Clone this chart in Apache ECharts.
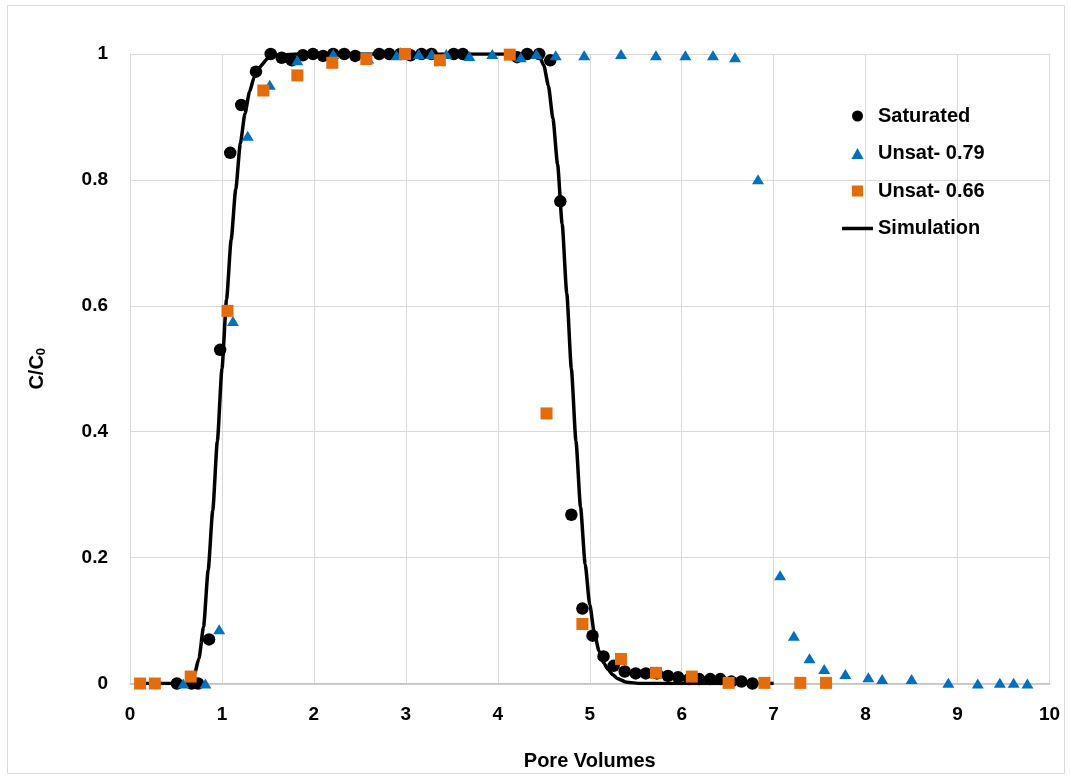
<!DOCTYPE html>
<html>
<head>
<meta charset="utf-8">
<script src="https://cdn.jsdelivr.net/npm/echarts@6/dist/echarts.min.js"></script>
<style>
html,body{margin:0;padding:0;background:#fff;}
#chart{width:1070px;height:780px;}
</style>
</head>
<body>
<div id="chart"></div>
<script>
// ---- data ----
const satX = [0.51,0.67,0.74,0.86,0.98,1.09,1.21,1.37,1.53,1.65,1.76,1.88,1.99,2.10,2.21,2.33,2.45,2.57,2.71,2.82,2.94,3.05,3.17,3.28,3.41,3.52,3.62,3.72,3.84,3.96,4.09,4.21,4.32,4.45,4.57,4.68,4.80,4.92,5.03,5.15,5.26,5.38,5.50,5.61,5.73,5.85,5.96,6.08,6.19,6.31,6.42,6.54,6.65,6.77];
const satY = [0,0,0,0.07,0.53,0.843,0.919,0.972,1.0,0.994,0.99,0.998,1.0,0.997,1.0,1.0,0.997,1.004,1.0,1.0,1.0,0.998,1.0,1.0,1.004,1.0,1.0,1.006,1.011,1.011,1.006,0.995,1.0,1.0,0.99,0.766,0.268,0.119,0.076,0.043,0.028,0.019,0.016,0.016,0.016,0.012,0.010,0.007,0.007,0.007,0.007,0.003,0.003,0.0];

const unsat79X = [0.58,0.82,0.97,1.12,1.28,1.52,1.82,2.21,2.59,2.90,3.14,3.28,3.44,3.69,3.94,4.25,4.42,4.63,4.94,5.34,5.72,6.04,6.34,6.58,6.83,7.07,7.22,7.39,7.55,7.78,8.03,8.18,8.50,8.90,9.22,9.46,9.61,9.76];
const unsat79Y = [0,0,0.086,0.576,0.870,0.951,0.990,1.0,0.993,0.998,1.0,1.0,1.0,0.997,1.0,0.995,1.0,0.998,0.998,1.0,0.998,0.998,0.998,0.995,0.801,0.172,0.076,0.040,0.023,0.015,0.010,0.007,0.007,0.001,0,0.001,0.001,0];

const unsat66X = [0.11,0.27,0.66,1.06,1.45,1.82,2.20,2.57,2.99,3.37,3.73,4.13,4.53,4.92,5.34,5.72,6.11,6.51,6.90,7.29,7.57];
const unsat66Y = [0,0,0.011,0.592,0.942,0.966,0.986,0.992,1.0,0.990,1.002,0.999,0.429,0.0945,0.039,0.017,0.011,0.001,0.001,0.001,0.001];

const simX = [0.1,0.3,0.5,0.60,0.65,0.70,0.75,0.80,0.85,0.90,0.95,1.00,1.05,1.10,1.15,1.20,1.25,1.30,1.35,1.40,1.50,1.60,1.80,2.5,3.5,4.40,4.45,4.50,4.55,4.60,4.65,4.70,4.75,4.80,4.85,4.90,4.95,5.00,5.05,5.10,5.15,5.20,5.25,5.30,5.40,5.55,6.0,6.5,7.0];
const simY = [0,0,0,0.000,0.004,0.014,0.040,0.090,0.180,0.275,0.385,0.500,0.610,0.705,0.785,0.858,0.905,0.940,0.963,0.978,0.993,0.998,1.000,1.0,1.0,1.000,0.997,0.982,0.950,0.897,0.825,0.730,0.620,0.500,0.385,0.280,0.190,0.125,0.080,0.052,0.033,0.022,0.014,0.008,0.002,0,0,0,0];

const xTicks = [0,1,2,3,4,5,6,7,8,9,10];
const yTicks = [0,0.2,0.4,0.6,0.8,1];

const zip = (a, b) => a.map((v, i) => [v, b[i]]);

const chart = echarts.init(document.getElementById('chart'));
const FONT = '"Liberation Sans", Arial, sans-serif';

chart.setOption({
  backgroundColor: '#fff',
  animation: false,
  textStyle: { fontFamily: FONT },
  graphic: [{
    type: 'rect', shape: { x: 7.5, y: 5.5, width: 1057, height: 768 },
    style: { fill: 'none', stroke: '#D9D9D9', lineWidth: 1 }, silent: true, z: -1
  }],
  grid: { left: 130, right: 20.5, top: 54, bottom: 96.5, containLabel: false },
  xAxis: {
    type: 'value', min: xTicks[0], max: xTicks[xTicks.length - 1], interval: 1,
    name: 'Pore Volumes', nameLocation: 'middle', nameGap: 68,
    nameTextStyle: { fontSize: 20, fontWeight: 'bold', color: '#000', fontFamily: FONT },
    axisLine: { show: true, lineStyle: { color: '#BFBFBF', width: 1.5 } },
    axisTick: { show: false },
    axisLabel: { fontSize: 19, fontWeight: 'bold', color: '#000', margin: 22, fontFamily: FONT },
    splitLine: { show: true, lineStyle: { color: '#D9D9D9', width: 1 } }
  },
  yAxis: {
    type: 'value', min: yTicks[0], max: yTicks[yTicks.length - 1], interval: 0.2,
    name: 'C/C{sub|0}', nameLocation: 'middle', nameGap: 82, nameRotate: 90,
    nameTextStyle: {
      fontSize: 20, fontWeight: 'bold', color: '#000', fontFamily: FONT,
      rich: { sub: { fontSize: 13, fontWeight: 'bold', color: '#000', verticalAlign: 'bottom', padding: [8, 0, 0, 0], fontFamily: FONT } }
    },
    axisLine: { show: true, lineStyle: { color: '#D9D9D9', width: 1 } },
    axisTick: { show: false },
    axisLabel: { fontSize: 19, fontWeight: 'bold', color: '#000', margin: 22, fontFamily: FONT,
      formatter: v => String(+v.toFixed(1)) },
    splitLine: { show: true, lineStyle: { color: '#D9D9D9', width: 1 } }
  },
  legend: {
    orient: 'vertical', left: 837, top: 101,
    itemWidth: 31, itemHeight: 11, itemGap: 17.5,
    symbolKeepAspect: true,
    textStyle: { fontSize: 20, fontWeight: 'bold', color: '#000', fontFamily: FONT },
    data: [
      { name: 'Saturated', icon: 'circle' },
      { name: 'Unsat- 0.79', icon: 'path://M0,10 L5.5,0 L11,10 Z' },
      { name: 'Unsat- 0.66', icon: 'path://M0,0 L11,0 L11,11 L0,11 Z' },
      { name: 'Simulation', icon: 'path://M0,0 L31,0 L31,3.5 L0,3.5 Z' }
    ]
  },
  series: [
    {
      name: 'Simulation', type: 'line', data: zip(simX, simY),
      symbol: 'none', smooth: 0.2, smoothMonotone: 'x',
      lineStyle: { color: '#000', width: 3.5 }, itemStyle: { color: '#000' }, z: 1
    },
    {
      name: 'Saturated', type: 'scatter', data: zip(satX, satY),
      symbol: 'circle', symbolSize: 12.5, itemStyle: { color: '#000', opacity: 1 }, z: 2
    },
    {
      name: 'Unsat- 0.79', type: 'scatter', data: zip(unsat79X, unsat79Y),
      symbol: 'triangle', symbolSize: [12, 10], itemStyle: { color: '#0070C0', opacity: 1 }, z: 3
    },
    {
      name: 'Unsat- 0.66', type: 'scatter', data: zip(unsat66X, unsat66Y),
      symbol: 'rect', symbolSize: 12, itemStyle: { color: '#E46C0A', opacity: 1 }, z: 4
    }
  ]
});
</script>
</body>
</html>
